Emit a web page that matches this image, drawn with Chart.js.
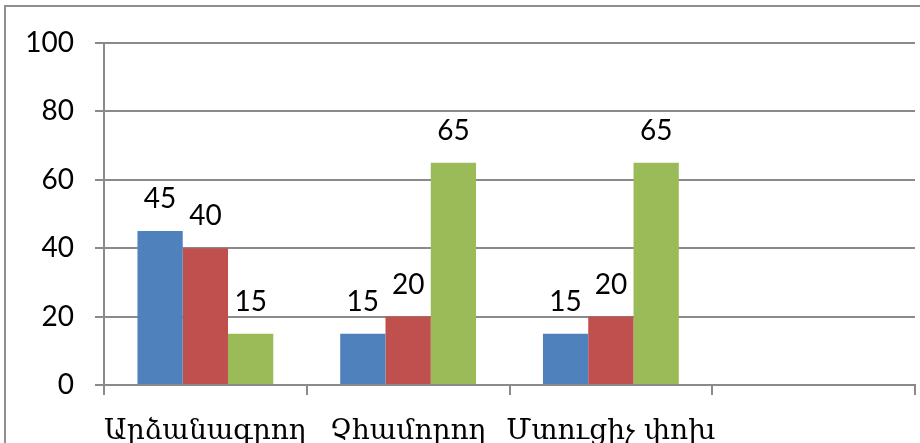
<!DOCTYPE html>
<html>
<head>
<meta charset="utf-8">
<script src="https://cdn.jsdelivr.net/npm/chart.js@4/dist/chart.umd.min.js"></script>
<style>
  html, body { margin: 0; padding: 0; width: 920px; height: 443px; overflow: hidden; background: #fff; }
  #wrap { position: absolute; left: 0; top: 0; width: 920px; height: 470px; }
  #frame { position: absolute; left: 4px; top: 5px; width: 960px; height: 520px; border-left: 2px solid #8f8f8f; border-top: 2px solid #8f8f8f; box-sizing: border-box; pointer-events: none; }
</style>
</head>
<body>
<div id="wrap"><canvas id="c" width="920" height="470"></canvas></div>
<div id="frame"></div>
<script>
// Data
const categories = ["Արձանագրող", "Չհամորող", "Մտուցիչ փոխ", ""];
const seriesBlue = [45, 15, 15, null];
const seriesRed = [40, 20, 20, null];
const seriesGreen = [15, 65, 65, null];
const yTicks = [0, 20, 40, 60, 80, 100];

const numFont = { family: "Lato, 'Open Sans', sans-serif", size: 28 };
const gridColor = "#8a8a8a";

const valueLabels = {
  id: "valueLabels",
  afterDatasetsDraw(chart) {
    const ctx = chart.ctx;
    ctx.save();
    ctx.font = "28px Lato, 'Open Sans', sans-serif";
    ctx.fillStyle = "#000";
    ctx.textAlign = "center";
    ctx.textBaseline = "alphabetic";
    chart.data.datasets.forEach((ds, i) => {
      const meta = chart.getDatasetMeta(i);
      meta.data.forEach((bar, j) => {
        const v = ds.data[j];
        if (v === null || v === undefined) return;
        ctx.fillText(String(v), bar.x, bar.y - 23);
      });
    });
    ctx.restore();
  }
};

new Chart(document.getElementById("c"), {
  type: "bar",
  data: {
    labels: categories,
    datasets: [
      { label: "1", data: seriesBlue, backgroundColor: "#4F81BD" },
      { label: "2", data: seriesRed, backgroundColor: "#C0504D" },
      { label: "3", data: seriesGreen, backgroundColor: "#9BBB59" }
    ]
  },
  options: {
    responsive: false,
    animation: false,
    devicePixelRatio: 1,
    layout: { padding: { top: 43, right: 5, bottom: 0, left: 0 } },
    plugins: { legend: { display: false }, tooltip: { enabled: false }, title: { display: false } },
    datasets: { bar: { categoryPercentage: 0.67, barPercentage: 1.0, borderWidth: 0 } },
    scales: {
      x: {
        grid: { display: true, drawOnChartArea: false, drawTicks: true, tickLength: 10, color: gridColor, lineWidth: 2, offset: true },
        border: { display: true, color: gridColor, width: 2 },
        ticks: { color: "#000", font: { family: "'DejaVu Serif', serif", size: 28 }, padding: 20, maxRotation: 0, autoSkip: false },
        afterFit(scale) { scale.height = 85; }
      },
      y: {
        min: 0, max: 100,
        afterBuildTicks(scale) { scale.ticks = yTicks.map(v => ({ value: v })); },
        grid: { color: gridColor, lineWidth: 2, tickLength: 9, drawTicks: true },
        border: { display: true, color: gridColor, width: 2 },
        ticks: { color: "#000", font: numFont, padding: 21 },
        afterFit(scale) { scale.width = 104; }
      }
    }
  },
  plugins: [valueLabels]
});
</script>
</body>
</html>
